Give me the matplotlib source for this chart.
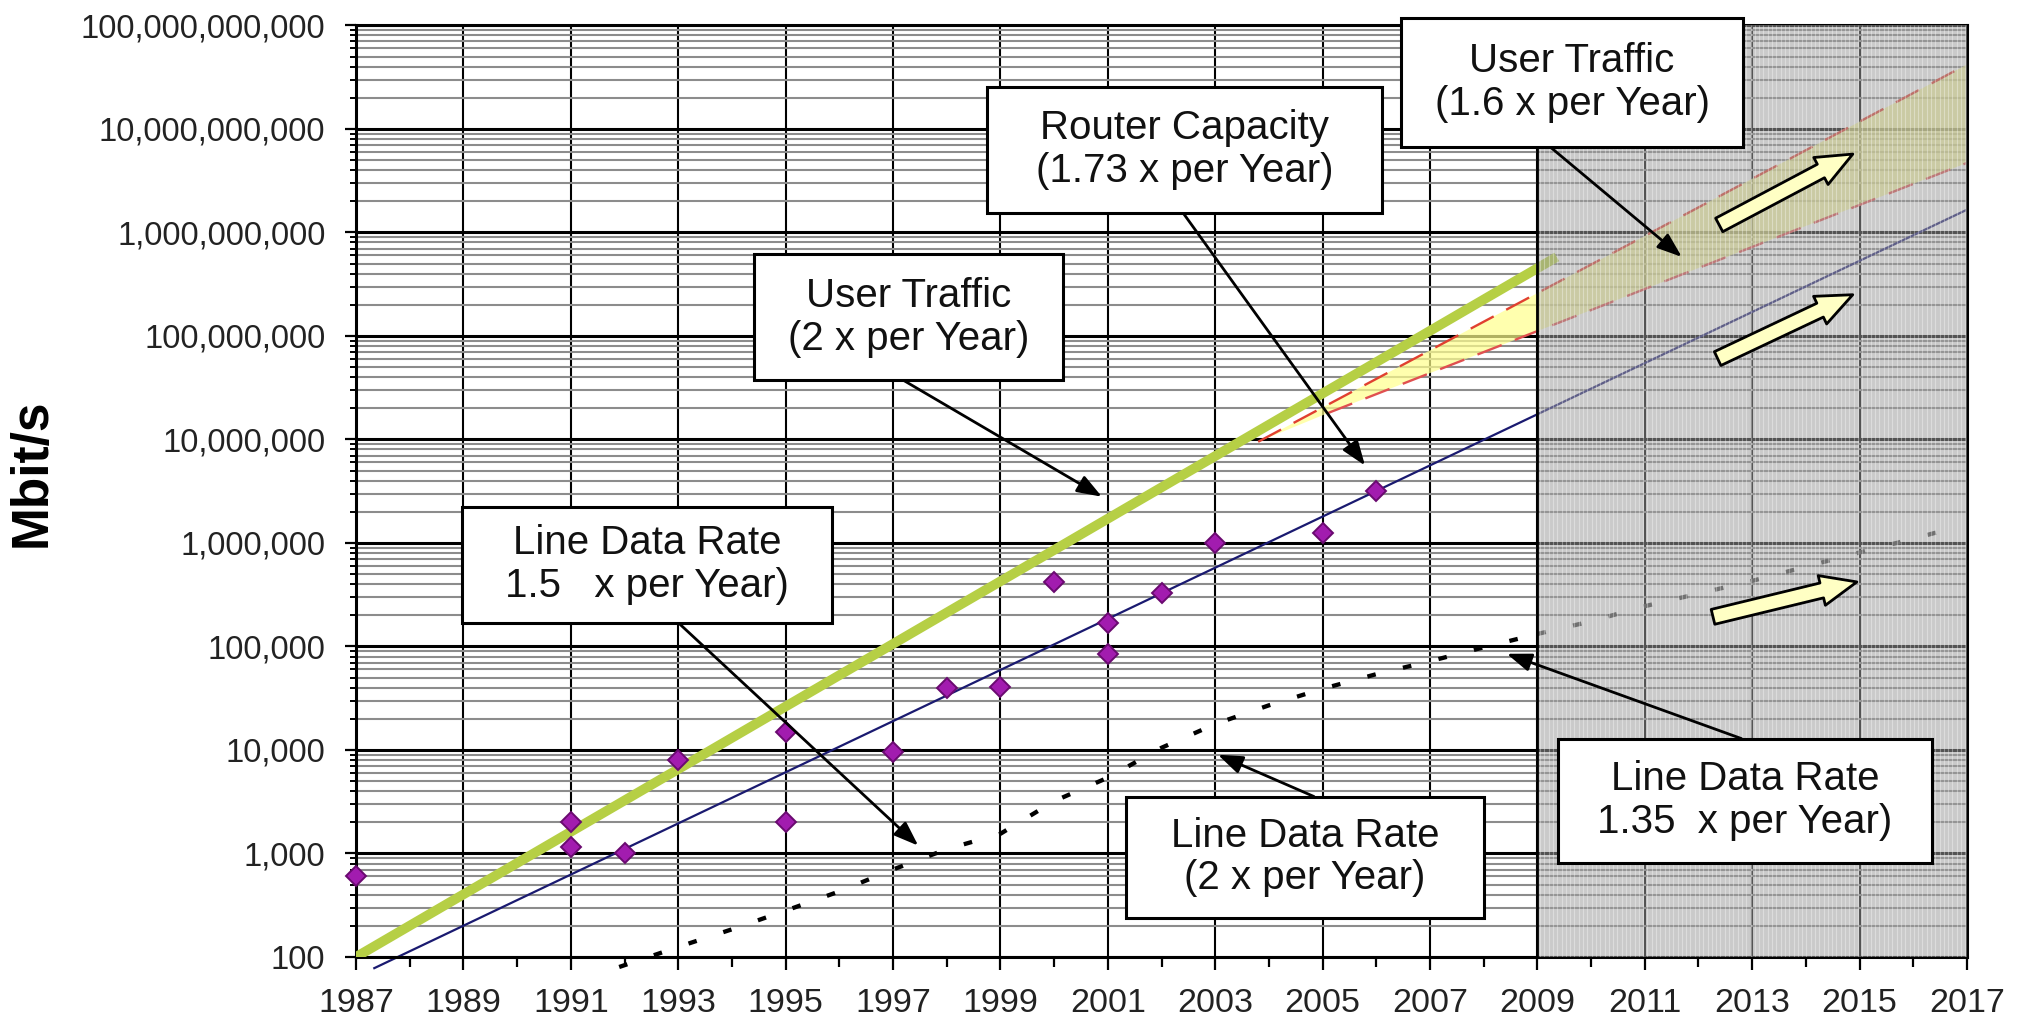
import numpy as np
import matplotlib
matplotlib.use("Agg")
import matplotlib.pyplot as plt
from matplotlib.patches import Rectangle, FancyArrowPatch
from matplotlib.ticker import FixedLocator, LogLocator, FuncFormatter, NullFormatter

plt.rcParams['font.family'] = ['Liberation Sans', 'DejaVu Sans']

# measured router capacities (purple diamonds)
point_years = [1987, 1991, 1991, 1992, 1993, 1995, 1995, 1997, 1998, 1999,
               2000, 2001, 2001, 2002, 2003, 2005, 2006]
point_rates = [600, 2000, 1150, 1000, 8000, 15000, 2000, 9500, 40000, 41000,
               420000, 170000, 85000, 325000, 1000000, 1250000, 3200000]

# trend lines (straight on the log scale)
traffic2_years = [1987, 2009.36]
traffic2_rates = [100, 5.8e8]
router_years = [1987.34, 2017]
router_rates = [78, 1.66e9]
traffic16_hi_years = [2003.8, 2017]
traffic16_hi_rates = [9.5e6, 4.2e10]
traffic16_lo_years = [2005.1, 2017]
traffic16_lo_rates = [1.8e7, 4.7e9]

# line data rate (dotted), history and projection
line_years = [1991.9, 1993, 1994, 1995, 1996, 1997, 1998, 1999, 2000, 2001,
              2002, 2003, 2004, 2005, 2006, 2007, 2008, 2009]
line_rates = [80, 125, 185, 280, 430, 700, 1100, 1550, 3200, 5400,
              10500, 17800, 27000, 39000, 54000, 72000, 98000, 132000]
proj_years = [2009, 2010, 2011, 2012, 2013, 2014, 2015, 2016, 2016.5]
proj_rates = [132000, 175000, 245000, 324000, 430000, 590000, 810000, 1100000, 1290000]

fig = plt.figure(figsize=(20.23, 10.31), dpi=100)
ax = fig.add_axes([0.176, 0.0718, 0.7963, 0.9035])

ax.set_yscale('log')
ax.set_xlim(1987, 2017)
ax.set_ylim(100, 1e11)

ax.yaxis.set_major_locator(LogLocator(10, numticks=20))
ax.yaxis.set_minor_locator(LogLocator(10, subs=range(2, 10), numticks=20))
ax.yaxis.set_major_formatter(FuncFormatter(lambda v, p: f"{v:,.0f}"))
ax.yaxis.set_minor_formatter(NullFormatter())
ax.xaxis.set_major_locator(FixedLocator(range(1987, 2018, 2)))
ax.xaxis.set_minor_locator(FixedLocator(range(1988, 2017, 2)))
ax.xaxis.set_minor_formatter(NullFormatter())

ax.set_axisbelow(True)
ax.grid(which='minor', axis='y', color='#8c8c8c', lw=1.5)
ax.grid(which='major', axis='y', color='black', lw=2.2)
ax.grid(which='major', axis='x', color='black', lw=1.5)

ax.tick_params(axis='y', which='major', length=8, width=1.6, labelsize=23.5, pad=14,
               labelcolor='#222222')
ax.tick_params(axis='y', which='minor', length=4.5, width=1.4)
ax.tick_params(axis='x', which='major', length=9.5, width=1.6, labelsize=24.5, pad=13,
               labelcolor='#222222')
ax.tick_params(axis='x', which='minor', length=7, width=1.6)
for s in ax.spines.values():
    s.set_linewidth(2.2)

# yellow band between the two 1.6x projections
ax.fill(traffic16_hi_years + traffic16_lo_years[::-1],
        traffic16_hi_rates + traffic16_lo_rates[::-1],
        color='#ffff8c', alpha=0.7, lw=0, zorder=1.5)
ax.plot(traffic16_hi_years, traffic16_hi_rates, color='#e04030', lw=1.7,
        ls=(0, (11, 6)), zorder=2)
ax.plot(traffic16_lo_years, traffic16_lo_rates, color='#e05050', lw=1.7,
        ls=(0, (11, 6)), zorder=2)

ax.plot(line_years, line_rates, color='black', lw=3.1, ls=(0, (2, 6.5)),
        zorder=2.2, clip_on=False)
ax.plot(proj_years, proj_rates, color='#404040', lw=3.1, ls=(0, (2, 6.5)), zorder=2.2)
ax.plot(router_years, router_rates, color='#1a1a70', lw=1.6, zorder=2.5, clip_on=False)
ax.plot(traffic2_years, traffic2_rates, color='#b6cf45', lw=7,
        solid_capstyle='butt', zorder=3)
ax.plot(point_years, point_rates, 'D', ms=10.5, mfc='#a21caf', mec='#6a0a70',
        mew=1.4, ls='none', zorder=3.5, clip_on=False)

# shaded forecast region
ax.axvspan(2009, 2017, facecolor='#9c9c9c', alpha=0.53, lw=0, zorder=4)
ax.vlines(np.arange(2009.05, 2017, 0.08), 100, 1e11, colors='white', lw=0.8,
          alpha=0.35, zorder=4.1)
ax.axvline(2009, color='black', lw=2, zorder=4.2)

# block arrows in the forecast region
for a, b in [((2012.34, 10**9.06), (2014.92, 10**9.77)),
             ((2012.31, 10**7.77), (2014.92, 10**8.41)),
             ((2012.22, 10**5.28), (2015.0, 10**5.63))]:
    ax.add_patch(FancyArrowPatch(a, b, arrowstyle='simple,head_length=1.3,head_width=1.1,tail_width=0.55',
                                 mutation_scale=20, fc='#ffffc4', ec='black', lw=2, zorder=5))


def callout(x0, x1, y0, y1, text, start, target):
    ax.add_patch(Rectangle((x0, y0), x1 - x0, y1 - y0, fc='white', ec='black',
                           lw=2.2, zorder=6, clip_on=False))
    yc = 10 ** ((np.log10(y0) + np.log10(y1)) / 2)
    ax.text((x0 + x1) / 2, yc, text, ha='center', va='center', fontsize=29,
            linespacing=1.15, color='#111111', zorder=7, clip_on=False)
    ax.annotate('', xy=target, xytext=start, zorder=5.5,
                arrowprops=dict(arrowstyle='-|>,head_length=0.6,head_width=0.22',
                                mutation_scale=25, color='black', lw=2,
                                shrinkA=0, shrinkB=0))


callout(2006.46, 2012.83, 10**9.83, 10**11.07, "User Traffic\n(1.6 x per Year)",
        (2009.23, 10**9.83), (2011.69, 5.8e8))
callout(1998.75, 2006.11, 10**9.19, 10**10.41, "Router Capacity\n(1.73 x per Year)",
        (2002.4, 10**9.19), (2005.79, 5.6e6))
callout(1994.41, 2000.17, 10**7.57, 10**8.79, "User Traffic\n(2 x per Year)",
        (1997.2, 10**7.57), (2000.89, 2.8e6))
callout(1988.97, 1995.86, 10**5.23, 10**6.35, "Line Data Rate\n1.5   x per Year)",
        (1993.0, 10**5.23), (1997.47, 1190))
callout(2001.34, 2008.0, 10**2.38, 10**3.55, "Line Data Rate\n(2 x per Year)",
        (2004.84, 10**3.55), (2003.05, 9000))
callout(2009.38, 2016.35, 10**2.91, 10**4.11, "Line Data Rate\n1.35  x per Year)",
        (2012.8, 10**4.11), (2008.43, 85000))

fig.text(32.5 / 2023, 1 - 473 / 1031, "Mbit/s", rotation=90, fontsize=37,
         fontweight='bold', ha='center', va='center')

fig.savefig("out.png", dpi=100)
